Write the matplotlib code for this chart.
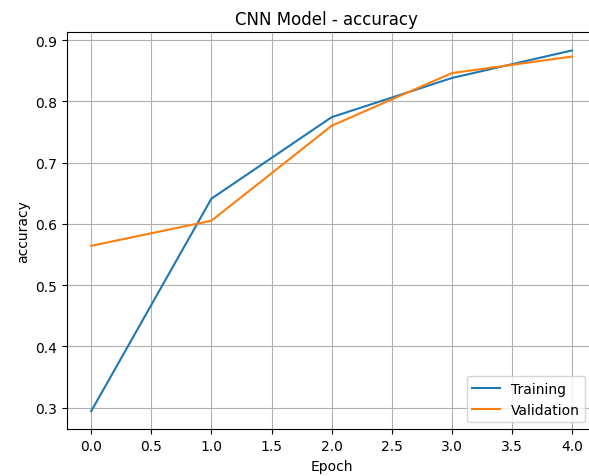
import matplotlib
matplotlib.use("Agg")
import matplotlib.pyplot as plt

epochs = [0, 1, 2, 3, 4]
train_acc = [0.294, 0.641, 0.774, 0.838, 0.883]
val_acc = [0.564, 0.605, 0.760, 0.846, 0.873]

fig, ax = plt.subplots(figsize=(5.89, 4.77), dpi=100)
# the reference is cropped on the right, so the axes run a little past the edge
fig.subplots_adjust(left=0.114, right=1.012, top=0.930, bottom=0.098)

ax.plot(epochs, train_acc, label="Training")
ax.plot(epochs, val_acc, label="Validation")
ax.set_title("CNN Model - accuracy", x=0.49)
ax.set_xlabel("Epoch")
ax.set_ylabel("accuracy")
ax.grid(True)
ax.legend(loc="lower right", bbox_to_anchor=(0.993, 0.0))

fig.savefig("out.png")
